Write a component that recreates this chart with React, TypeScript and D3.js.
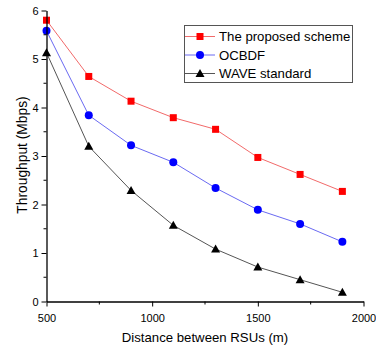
import React, { useEffect, useRef } from 'react'
import * as d3 from 'd3'

const distances = [500, 700, 900, 1100, 1300, 1500, 1700, 1900]
const proposed = [5.8, 4.64, 4.13, 3.79, 3.55, 2.97, 2.62, 2.27]
const ocbdf = [5.58, 3.84, 3.22, 2.87, 2.34, 1.89, 1.6, 1.23]
const wave = [5.13, 3.2, 2.29, 1.57, 1.08, 0.71, 0.45, 0.19]
const seriesNames = ['The proposed scheme', 'OCBDF', 'WAVE standard']
const xTicks = [500, 1000, 1500, 2000]
const yTicks = [0, 1, 2, 3, 4, 5, 6]

export default function App(){
  const svgRef = useRef<SVGSVGElement>(null)

  useEffect(()=>{
    const width=376, height=349
    const svg=d3.select(svgRef.current).attr('width',width).attr('height',height)
    svg.selectAll('*').remove()
    const font='"Liberation Sans", Arial, sans-serif'
    const x=d3.scaleLinear().domain([500,2000]).range([46.5,363.5])
    const y=d3.scaleLinear().domain([0,6]).range([301.5,10.5])

    const series=[
      {name:seriesNames[0], vals:proposed, line:'#f26a6a', fill:'#ff0000', shape:'square'},
      {name:seriesNames[1], vals:ocbdf, line:'#6a6af2', fill:'#0000ff', shape:'circle'},
      {name:seriesNames[2], vals:wave, line:'#555555', fill:'#000000', shape:'triangle'},
    ]

    const drawMarker=(g:any, shape:string, cx:number, cy:number, fill:string)=>{
      if(shape==='square') g.append('rect').attr('x',cx-3.5).attr('y',cy-3.5).attr('width',7).attr('height',7).attr('fill',fill)
      else if(shape==='circle') g.append('circle').attr('cx',cx).attr('cy',cy).attr('r',4).attr('fill',fill)
      else g.append('path').attr('d',`M${cx},${cy-4.5}L${cx+4.5},${cy+3.5}L${cx-4.5},${cy+3.5}Z`).attr('fill',fill)
    }

    const line=d3.line<number>().x((_,i)=>x(distances[i])).y(d=>y(d))
    series.forEach(s=>{
      svg.append('path').attr('d',line(s.vals)).attr('fill','none').attr('stroke',s.line).attr('stroke-width',1)
      const g=svg.append('g')
      s.vals.forEach((v,i)=>drawMarker(g,s.shape,x(distances[i]),y(v),s.fill))
    })

    // axes
    const xAxis=svg.append('g').attr('transform',`translate(0,${y(0)})`)
      .call(d3.axisBottom(x).tickValues(xTicks).tickSize(5).tickSizeOuter(0).tickFormat(d3.format('d')))
    xAxis.append('g').selectAll('line').data([750,1250,1750]).join('line')
      .attr('x1',d=>x(d)).attr('x2',d=>x(d)).attr('y1',0).attr('y2',3).attr('stroke','#000')
    const yAxis=svg.append('g').attr('transform',`translate(${x(500)},0)`)
      .call(d3.axisLeft(y).tickValues(yTicks).tickSize(5).tickSizeOuter(0).tickFormat(d3.format('d')))
    yAxis.append('g').selectAll('line').data([0.5,1.5,2.5,3.5,4.5,5.5]).join('line')
      .attr('y1',d=>y(d)).attr('y2',d=>y(d)).attr('x1',0).attr('x2',-3).attr('stroke','#000')
    ;[xAxis,yAxis].forEach(a=>{
      a.select('.domain').attr('stroke','#000').attr('stroke-width',1.3)
      a.selectAll('text').attr('font-family',font).attr('font-size',11).attr('fill','#000')
    })
    xAxis.selectAll('.tick text').attr('dy','1.1em')

    svg.append('text').attr('x',205).attr('y',342).attr('text-anchor','middle')
      .attr('font-family',font).attr('font-size',13.2).text('Distance between RSUs (m)')
    svg.append('text').attr('transform','translate(27,155) rotate(-90)').attr('text-anchor','middle')
      .attr('font-family',font).attr('font-size',13.8).text('Throughput (Mbps)')

    // legend
    const lg=svg.append('g')
    lg.append('rect').attr('x',184.5).attr('y',25.5).attr('width',168).attr('height',57)
      .attr('fill','#fff').attr('stroke','#555').attr('stroke-width',1)
    series.forEach((s,i)=>{
      const cy=36.5+i*18.5
      lg.append('line').attr('x1',185).attr('x2',215).attr('y1',cy).attr('y2',cy).attr('stroke',s.line)
      drawMarker(lg,s.shape,200,cy,s.fill)
      lg.append('text').attr('x',219).attr('y',cy+4.8).attr('font-family',font).attr('font-size',13.2).text(s.name)
    })
  },[])

  return (<div><svg ref={svgRef} style={{position:'absolute',left:0,top:0}}></svg></div>)
}
